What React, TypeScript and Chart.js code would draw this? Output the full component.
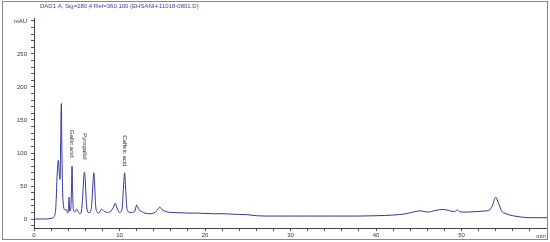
import React, { useEffect, useRef } from "react";
import { Chart, registerables } from "chart.js";

Chart.register(...registerables);

const TITLE = "DAD1 A, Sig=280,4 Ref=360,100 (EHSANH-11018-0801.D)";
const X_UNIT = "min";
const Y_UNIT = "mAU";

const times = [
  0, 1.0, 2.1, 2.3, 2.5, 2.6, 2.7, 2.8, 2.85, 2.95, 3.05, 3.12, 3.2, 3.25, 3.28, 3.35, 3.45, 3.6, 3.8, 3.95,
  4.05, 4.1, 4.18, 4.3, 4.4, 4.45, 4.52, 4.6, 4.8, 5.0, 5.2, 5.4, 5.55, 5.7, 5.8, 5.9, 6.0, 6.1, 6.2, 6.35,
  6.55, 6.75, 6.9, 7.0, 7.1, 7.2, 7.35, 7.6, 7.9, 8.2, 8.6, 9.0, 9.3, 9.5, 9.7, 10.0, 10.3, 10.45, 10.6, 10.72,
  10.85, 11.0, 11.4, 11.8, 12.0, 12.3, 12.8, 13.4, 14.0, 14.4, 14.7, 15.0, 15.5, 16, 17, 18, 19, 20, 21, 22,
  23, 24, 25, 26, 27, 28, 30, 32, 35, 38, 40, 42, 43.5, 44.5, 45.2, 46, 47, 47.8, 48.5, 49.2,
  49.5, 49.8, 50.5, 51.5, 52.5, 53.2, 53.6, 54.0, 54.3, 54.7, 55.2, 56, 57, 58, 60,
];
const signal = [
  0, 0, 1, 3, 10, 30, 65, 85, 89, 70, 60, 120, 175, 120, 90, 40, 20, 14, 14, 9,
  20, 33, 12, 15, 55, 80, 40, 15, 11, 15, 10, 8, 12, 35, 60, 71, 58, 30, 15, 10,
  10, 22, 55, 70, 50, 22, 11, 9, 15, 12, 10, 12, 18, 24, 17, 10, 15, 45, 70, 45,
  18, 11, 10, 12, 21, 14, 10, 8, 9, 13, 18, 14, 11, 10, 9.5, 9, 9, 8.5, 8, 8,
  7.5, 7, 6.5, 5, 4.5, 4.5, 4.5, 4.5, 4.5, 4.5, 5, 6, 8, 11, 12.5, 10.5, 13, 14.5, 13, 11,
  14, 11, 10.5, 11, 12, 13, 20, 33, 25, 12, 8, 5, 3, 2, 2,
];

const peakNames = ["Gallic acid", "Pyrogallol", "Caffeic acid"];
const peakTimes = [4.45, 5.9, 10.6];
const peakLabelTops = [135, 130, 127];

const xTickValues = [0, 2, 4, 6, 8, 10, 12, 14, 16, 18, 20, 22, 24, 26, 28, 30, 32, 34, 36, 38, 40, 42, 44, 46, 48, 50, 52, 54, 56, 58, 60];
const yTickValues = [-10, 0, 10, 20, 30, 40, 50, 60, 70, 80, 90, 100, 110, 120, 130, 140, 150, 160, 170, 180, 190, 200, 210, 220, 230, 240, 250, 260, 270, 280, 290, 300];

const FONT = "'Liberation Sans', Arial, sans-serif";

export default function App() {
  const ref = useRef<HTMLCanvasElement | null>(null);

  useEffect(() => {
    document.body.style.margin = "0";
    const canvas = ref.current;
    if (!canvas) return;

    const overlay = {
      id: "overlay",
      afterDraw(chart: any) {
        const ctx = chart.ctx;
        const xs = chart.scales.x;
        const ys = chart.scales.y;
        ctx.save();
        ctx.font = `6px ${FONT}`;
        ctx.fillStyle = "#4040a0";
        ctx.textAlign = "left";
        ctx.textBaseline = "middle";
        ctx.fillText(TITLE, 40, 6);
        ctx.fillStyle = "#333";
        ctx.textAlign = "center";
        ctx.fillText(X_UNIT, 541, 236);
        for (let i = 0; i < peakNames.length; i++) {
          const px = xs.getPixelForValue(peakTimes[i]);
          const py = ys.getPixelForValue(peakLabelTops[i]);
          ctx.save();
          ctx.translate(px, py);
          ctx.rotate(Math.PI / 2);
          ctx.textAlign = "left";
          ctx.textBaseline = "middle";
          ctx.fillText(peakNames[i], 0, 0);
          ctx.restore();
        }
        ctx.restore();
      },
    };

    const chart = new Chart(canvas, {
      type: "line",
      data: {
        datasets: [
          {
            data: times.map((t, i) => ({ x: t, y: signal[i] })),
            borderColor: "#35359a",
            borderWidth: 1,
            pointRadius: 0,
            cubicInterpolationMode: "monotone",
            fill: false,
          },
        ],
      },
      options: {
        responsive: false,
        animation: false,
        layout: { padding: { top: 18, right: 3, left: 0, bottom: 0 } },
        plugins: { legend: { display: false }, tooltip: { enabled: false }, title: { display: false } },
        scales: {
          x: {
            type: "linear",
            min: 0,
            max: 60,
            afterBuildTicks: (s: any) => {
              s.ticks = xTickValues.map((v) => ({ value: v }));
            },
            afterFit: (s: any) => {
              s.height = 14;
              s.paddingLeft = 0;
              s.paddingRight = 0;
            },
            ticks: {
              autoSkip: false,
              maxRotation: 0,
              padding: 1,
              color: "#333",
              font: { size: 6, family: FONT },
              callback: (v: any) => (v % 10 === 0 && v < 60 ? String(v) : ""),
            },
            grid: { drawOnChartArea: false, drawTicks: true, tickLength: 3, color: "#555" },
            border: { display: true, color: "#444", width: 1 },
          },
          y: {
            type: "linear",
            min: -13.6,
            max: 304.5,
            afterBuildTicks: (s: any) => {
              s.ticks = yTickValues.map((v) => ({ value: v }));
            },
            afterFit: (s: any) => {
              s.width = 34;
            },
            ticks: {
              autoSkip: false,
              padding: 4,
              color: "#333",
              font: { size: 6, family: FONT },
              callback: (v: any) => (v === 300 ? Y_UNIT : v % 50 === 0 && v >= 0 ? String(v) : ""),
            },
            grid: { drawOnChartArea: false, drawTicks: true, tickLength: 3, color: "#555" },
            border: { display: true, color: "#444", width: 1 },
          },
        },
      },
      plugins: [overlay],
    });
    return () => chart.destroy();
  }, []);

  return (
    <div style={{ position: "relative", width: 550, height: 242, background: "#fff" }}>
      <canvas ref={ref} width={550} height={242} style={{ display: "block" }} />
      <div
        style={{
          position: "absolute",
          left: 2,
          top: 1,
          width: 546,
          height: 239,
          boxSizing: "border-box",
          border: "1px solid #888",
          pointerEvents: "none",
        }}
      />
    </div>
  );
}
